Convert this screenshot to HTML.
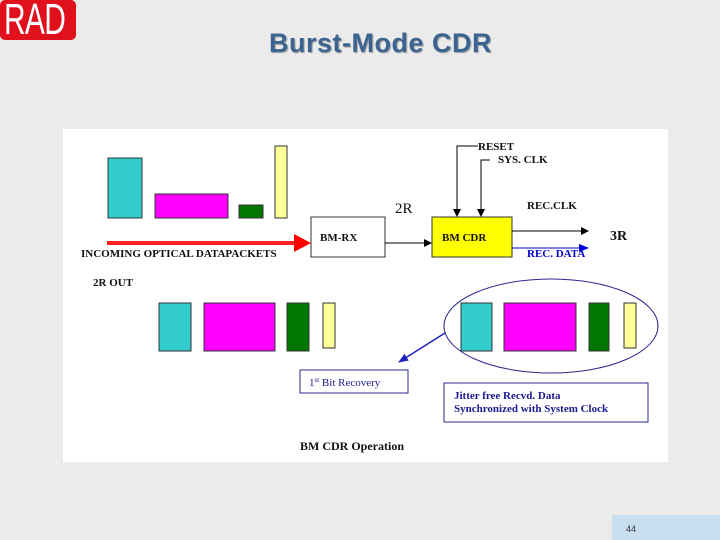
<!DOCTYPE html>
<html><head><style>
body{margin:0;width:720px;height:540px;background:#ebebeb;position:relative;overflow:hidden;font-family:"Liberation Serif",serif}
.a{position:absolute}
</style></head><body>
<div class="a" style="left:0;top:0;width:76px;height:40px;background:#e0101c;border-radius:5px"></div>
<div class="a" style="left:4px;top:-2px;font:44px/44px 'Liberation Sans',sans-serif;color:#fff;transform:scaleX(0.68);transform-origin:left;letter-spacing:-1px">RAD</div>
<div class="a" style="left:269px;top:28px;font:bold 27px 'Liberation Sans',sans-serif;color:#3c6491;text-shadow:1px 1px 1px #999;letter-spacing:0.5px">Burst-Mode CDR</div>
<div class="a" style="left:63px;top:129px;width:605px;height:333px;background:#fff"></div>
<div class="a" style="left:612px;top:515px;width:108px;height:25px;background:#c8dff0"></div>
<div class="a" style="left:626px;top:524px;font:9px 'Liberation Sans',sans-serif;color:#333">44</div>
<svg class="a" style="left:0;top:0" width="720" height="540" font-family="Liberation Serif,serif">
<defs>
<marker id="k" markerWidth="8" markerHeight="8" refX="7" refY="4" orient="auto" markerUnits="userSpaceOnUse"><path d="M0,0L8,4L0,8z" fill="#000"/></marker>
<marker id="b" markerWidth="10" markerHeight="8" refX="9" refY="4" orient="auto" markerUnits="userSpaceOnUse"><path d="M0,0L10,4L0,8z" fill="#0000dd"/></marker>
<marker id="bl" markerWidth="10" markerHeight="8" refX="9" refY="4" orient="auto" markerUnits="userSpaceOnUse"><path d="M0,0L10,4L0,8z" fill="#2020c0"/></marker>
</defs>
<g stroke="#333" stroke-width="1">
<rect x="108" y="158" width="34" height="60" fill="#33cccc"/>
<rect x="155" y="194" width="73" height="24" fill="#ff00ff"/>
<rect x="239" y="205" width="24" height="13" fill="#007700"/>
<rect x="275" y="146" width="12" height="72" fill="#ffff99"/>
<rect x="159" y="303" width="32" height="48" fill="#33cccc"/>
<rect x="204" y="303" width="71" height="48" fill="#ff00ff"/>
<rect x="287" y="303" width="22" height="48" fill="#007700"/>
<rect x="323" y="303" width="12" height="45" fill="#ffff99"/>
<rect x="461" y="303" width="31" height="48" fill="#33cccc"/>
<rect x="504" y="303" width="72" height="48" fill="#ff00ff"/>
<rect x="589" y="303" width="20" height="48" fill="#007700"/>
<rect x="624" y="303" width="12" height="45" fill="#ffff99"/>
<rect x="311" y="217" width="74" height="40" fill="#fff"/>
<rect x="432" y="217" width="80" height="40" fill="#ffff00"/>
</g>
<line x1="107" y1="243" x2="296" y2="243" stroke="#ff2020" stroke-width="4"/>
<path d="M294,234L311,243L294,252z" fill="#ff0000"/>
<line x1="385" y1="243" x2="431" y2="243" stroke="#000" marker-end="url(#k)"/>
<path d="M478,146H457V216" fill="none" stroke="#000" marker-end="url(#k)"/>
<path d="M490,160H481V216" fill="none" stroke="#000" marker-end="url(#k)"/>
<line x1="512" y1="231" x2="588" y2="231" stroke="#000" marker-end="url(#k)"/>
<line x1="512" y1="248" x2="588" y2="248" stroke="#0000dd" marker-end="url(#b)"/>
<ellipse cx="551" cy="326" rx="107" ry="47" fill="none" stroke="#2a2a90"/>
<line x1="445" y1="333" x2="399" y2="362" stroke="#2020c0" stroke-width="1.5" marker-end="url(#bl)"/>
<rect x="300" y="370" width="108" height="23" fill="#fff" stroke="#2a2a90"/>
<rect x="444" y="383" width="204" height="39" fill="#fff" stroke="#2a2a90"/>
<g font-weight="bold" font-size="11" fill="#111">
<text x="320" y="241">BM-RX</text>
<text x="442" y="241" font-size="11">BM CDR</text>
<text x="478" y="150">RESET</text>
<text x="498" y="163">SYS. CLK</text>
<text x="527" y="209">REC.CLK</text>
<text x="527" y="257" fill="#0000cc">REC. DATA</text>
<text x="610" y="240" font-size="14">3R</text>
<text x="81" y="257">INCOMING OPTICAL DATAPACKETS</text>
<text x="93" y="286">2R OUT</text>
<text x="300" y="450" font-size="12">BM CDR Operation</text>
<text x="454" y="399" fill="#1a1a90">Jitter free  Recvd. Data</text>
<text x="454" y="412" fill="#1a1a90">Synchronized with System Clock</text>
</g>
<text x="395" y="213" font-size="15" fill="#111">2R</text>
<text x="309" y="386" font-size="11" fill="#1a1a90">1<tspan font-size="7" dy="-4">st</tspan><tspan dy="4"> Bit Recovery</tspan></text>
</svg>
</body></html>
